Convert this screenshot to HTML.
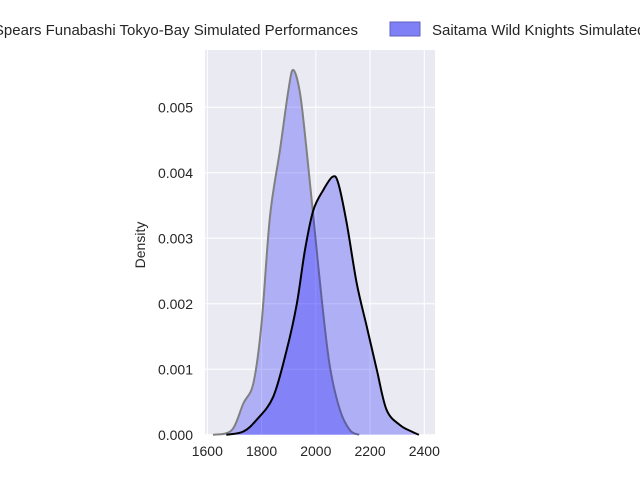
<!DOCTYPE html>
<html><head><meta charset="utf-8"><style>
body{margin:0;background:#fff;width:640px;height:480px;overflow:hidden;font-family:"Liberation Sans",sans-serif}
</style></head><body>
<svg id="c" width="640" height="480" xmlns="http://www.w3.org/2000/svg" font-family="Liberation Sans, sans-serif">
<rect x="205" y="50" width="230" height="385" fill="#eaeaf2"/>
<g id="grid"></g><g id="marks"></g><g id="ticks"></g>
<text x="145" y="245" font-size="14" fill="#262626" text-anchor="middle" transform="rotate(-90 145 245)">Density</text>
<g>
<text x="358" y="35" font-size="15" fill="#262626" text-anchor="end">Spears Funabashi Tokyo-Bay Simulated Performances</text>
<rect x="390" y="22" width="30" height="14" fill="#7f7ff6" stroke="#6060c0" stroke-width="1"/>
<text x="432" y="35" font-size="15" fill="#262626">Saitama Wild Knights Simulated Performances</text>
</g>
</svg>
<script>
const xTicks=[1600,1800,2000,2200,2400];
const yTicks=[0,0.001,0.002,0.003,0.004,0.005];
const yTickLabels=["0.000","0.001","0.002","0.003","0.004","0.005"];
const funX=[1621,1690,1733,1770,1800,1831,1868,1899,1917,1942,1966,1991,2022,2052,2089,2126,2160];
const funY=[0,0.00007,0.00048,0.00079,0.0017,0.00333,0.00435,0.00526,0.00557,0.00521,0.00435,0.00333,0.00206,0.00104,0.00038,0.00007,0];
const saiX=[1670,1733,1782,1843,1893,1930,1960,1991,2028,2062,2083,2114,2151,2188,2225,2261,2310,2353,2380];
const saiY=[0,0.00005,0.00023,0.00058,0.0013,0.002,0.00282,0.00343,0.00374,0.00394,0.00384,0.00323,0.00231,0.00165,0.00099,0.00038,0.00015,0.00005,0];
const sx=v=>207.3+(v-1600)*54.25/200;
const sy=v=>434.8-v*65500;
const NS="http://www.w3.org/2000/svg";
function mk(t,a,p){const e=document.createElementNS(NS,t);for(const k in a)e.setAttribute(k,a[k]);p.appendChild(e);return e;}
const grid=document.getElementById('grid'),ticks=document.getElementById('ticks'),marks=document.getElementById('marks');
xTicks.forEach(v=>{
const l=mk('line',{x1:sx(v),x2:sx(v),y1:50,y2:435,stroke:'#fff','stroke-width':1},grid);


const t=mk('text',{x:sx(v),y:456,'font-size':14,fill:'#262626','text-anchor':'middle'},ticks);
t.textContent=v;


});
yTicks.forEach((v,i)=>{
const l=mk('line',{x1:205,x2:435,y1:sy(v),y2:sy(v),stroke:'#fff','stroke-width':1},grid);


const t=mk('text',{x:193,y:sy(v)+5,'font-size':14,fill:'#262626','text-anchor':'end'},ticks);
t.textContent=yTickLabels[i];


});
function smooth(xs,ys){
const p=xs.map((x,i)=>[sx(x),sy(ys[i])]);
let d='M'+p[0][0]+','+p[0][1];
for(let i=0;i<p.length-1;i++){
const p0=p[Math.max(0,i-1)],p1=p[i],p2=p[i+1],p3=p[Math.min(p.length-1,i+2)];
const c1=[p1[0]+(p2[0]-p0[0])/6,p1[1]+(p2[1]-p0[1])/6],c2=[p2[0]-(p3[0]-p1[0])/6,p2[1]-(p3[1]-p1[1])/6];
d+=` C${c1[0]},${c1[1]} ${c2[0]},${c2[1]} ${p2[0]},${p2[1]}`;
}
return d;
}
function series(xs,ys,stroke,name){
const d=smooth(xs,ys);
const f=mk('path',{d:d+' Z',fill:'#0000ff','fill-opacity':0.25},marks);


const l=mk('path',{d:d,fill:'none',stroke:stroke,'stroke-width':2},marks);


}
series(funX,funY,'#808080','funabashi-kde');
series(saiX,saiY,'#000000','saitama-kde');
</script>
</body></html>
